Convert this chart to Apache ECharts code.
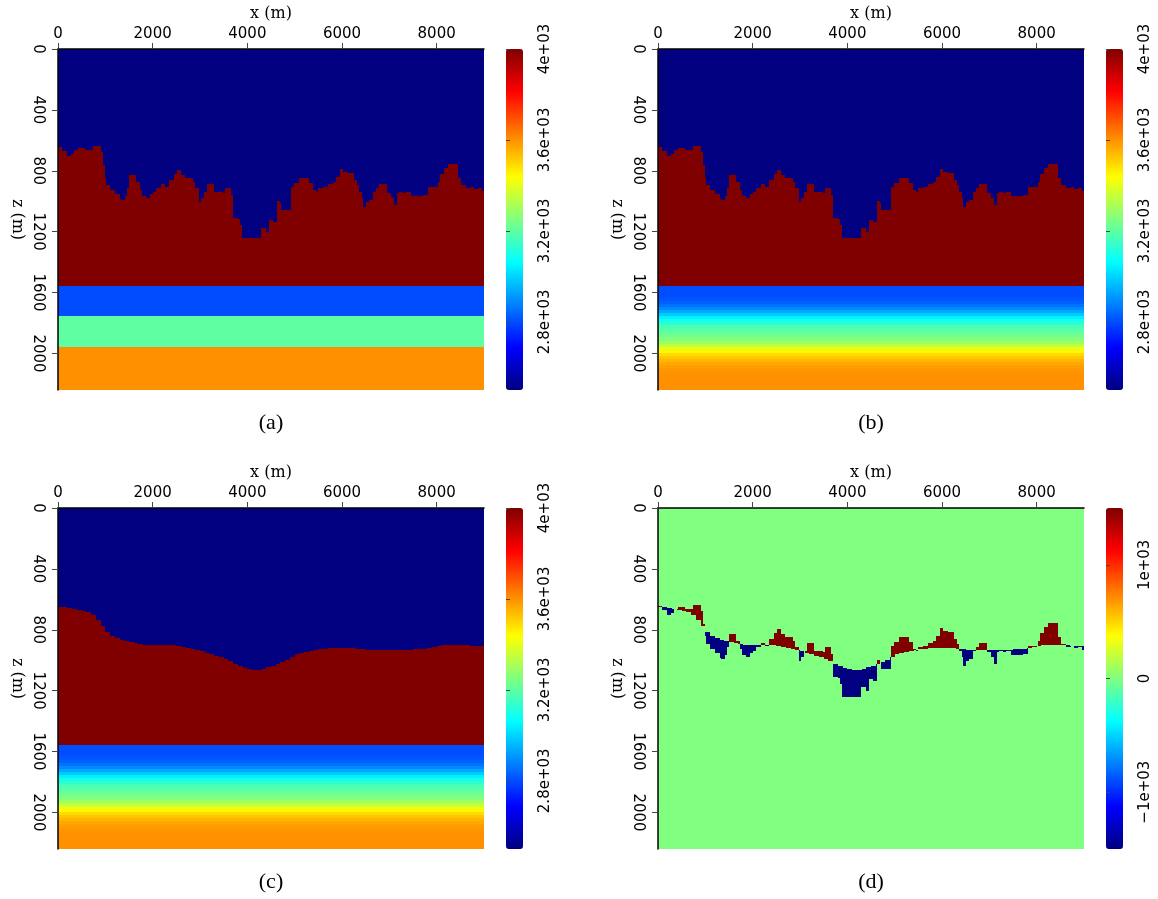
<!DOCTYPE html>
<html>
<head>
<meta charset="utf-8">
<script src="https://cdn.jsdelivr.net/npm/echarts@6/dist/echarts.min.js"></script>
<style>
  html, body { margin: 0; padding: 0; background: #fff; }
  #chart { width: 1158px; height: 899px; }
</style>
</head>
<body>
<div id="chart"></div>
<script>
// model extent (m)
var xMax = 9000;
var zMax = 2240;
var saltBase = 1555;

var waterVel = 2500;
var saltVel = 4000;

// flat sediment layers under the salt, panel (a)
var layerTop = [1555, 1755, 1955];
var layerVel = [2800, 3200, 3600];

// smoothed sediments under the salt, panels (b) and (c)
var gradZ = [1555, 1575, 1595, 1615, 1635, 1655, 1675, 1695, 1715, 1735, 1755, 1775, 1795, 1815, 1835, 1855, 1875,
             1895, 1915, 1935, 1955, 1975, 1995, 2015, 2035, 2055, 2075, 2095, 2115, 2135, 2155, 2175, 2195, 2215];
var gradVel = [2800, 2800, 2800, 2805, 2815, 2830, 2855, 2890, 2935, 2985, 3040, 3090, 3130, 3165, 3190, 3205, 3225,
               3255, 3295, 3345, 3400, 3450, 3490, 3520, 3545, 3565, 3580, 3590, 3597, 3600, 3600, 3600, 3600, 3600];

// rugged top of salt, panels (a) and (b): column starts (m) and depth (m)
var roughX = [0, 90, 180, 280, 340, 430, 560, 740, 915, 950, 985, 1020, 1090, 1195, 1300, 1340, 1405, 1465, 1490,
              1655, 1725, 1775, 1865, 1935, 2005, 2075, 2180, 2250, 2355, 2460, 2510, 2590, 2675, 2780, 2850, 2900,
              2970, 3025, 3095, 3150, 3305, 3480, 3530, 3660, 3695, 3800, 3840, 3885, 4290, 4395, 4465, 4550, 4620,
              4680, 4715, 4925, 4995, 5085, 5240, 5310, 5380, 5450, 5490, 5590, 5700, 5805, 5875, 5960, 6030, 6120,
              6260, 6310, 6365, 6425, 6450, 6505, 6580, 6650, 6720, 6790, 6945, 7035, 7105, 7155, 7210, 7280, 7350,
              7460, 7705, 7810, 8020, 8070, 8160, 8230, 8445, 8515, 8620, 8725, 8795, 8865, 8955];
var roughTop = [641, 669, 700, 689, 663, 649, 663, 636, 674, 761, 838, 893, 926, 954, 985, 992, 963, 915, 827,
                871, 926, 965, 976, 954, 937, 915, 888, 904, 860, 823, 794, 827, 845, 849, 871, 915,
                1003, 981, 937, 888, 937, 948, 915, 959, 1112, 1116, 1156, 1244, 1178, 1200, 1123, 1138, 998,
                1014, 1057, 904, 882, 849, 845, 882, 926, 941, 911, 904, 888, 871, 838, 788, 805, 816,
                860, 893, 941, 981, 1036, 1003, 992, 937, 915, 888, 948, 981, 1025, 948, 941, 948, 941,
                965, 959, 909, 871, 823, 783, 757, 849, 893, 911, 904, 920, 915, 933];

// smoothed top of salt, panel (c): one depth every 100 m from x = 0
var smoothStep = 100;
var smoothTop = [649, 649, 655, 661, 668, 675, 682, 702, 738, 777, 813, 838, 857, 867, 875, 881, 887, 892, 898, 901,
                 901, 901, 901, 901, 901, 905, 911, 917, 925, 933, 942, 951, 960, 970, 982, 994, 1007, 1022, 1039, 1051,
                 1059, 1062, 1062, 1058, 1047, 1036, 1023, 1011, 996, 978, 962, 952, 943, 938, 933, 929, 925, 922, 919, 917,
                 917, 918, 920, 925, 929, 931, 932, 933, 934, 934, 934, 934, 933, 932, 930, 929, 927, 924, 920, 915,
                 909, 903, 897, 897, 897, 898, 901, 904, 907, 908];
var smoothX = smoothTop.map(function(d, i){ return i * smoothStep; });

var velTicks = [2800, 3200, 3600, 4000];
var diffTicks = [-1000, 0, 1000];
var diffMin = -1500, diffMax = 1500;

var jet = ['#000080', '#0000ff', '#0080ff', '#00ffff', '#80ff80', '#ffff00', '#ff8000', '#ff0000', '#800000'];

// ---- build cell lists: [x0, x1, z0, z1, value]
function stepAt(xs, tops, x){
	var k = 0;
	for(var i=0;i<xs.length;i++){ if(xs[i] <= x) k = i; }
	return tops[k];
}
function saltCells(xs, tops){
	var out = [];
	for(var i=0;i<xs.length;i++){
		var x1 = i < xs.length - 1 ? xs[i+1] : xMax;
		out.push([xs[i], x1, tops[i], saltBase, saltVel]);
	}
	return out;
}
function gradCells(){
	var out = [];
	for(var i=0;i<gradZ.length;i++){
		var z1 = i < gradZ.length - 1 ? gradZ[i+1] : zMax;
		out.push([0, xMax, gradZ[i], z1, gradVel[i]]);
	}
	return out;
}
function layerCells(){
	var out = [];
	for(var i=0;i<layerTop.length;i++){
		var z1 = i < layerTop.length - 1 ? layerTop[i+1] : zMax;
		out.push([0, xMax, layerTop[i], z1, layerVel[i]]);
	}
	return out;
}
var water = [[0, xMax, 0, saltBase, waterVel]];
var dataA = water.concat(saltCells(roughX, roughTop), layerCells());
var dataB = water.concat(saltCells(roughX, roughTop), gradCells());
var dataC = water.concat(saltCells(smoothX, smoothTop), gradCells());

// panel (d): (b) minus (c), only differs around the top of salt
var edges = roughX.concat(smoothX).filter(function(v, i, a){ return a.indexOf(v) === i; }).sort(function(a, b){ return a - b; });
var dataD = [[0, xMax, 0, zMax, 0]];
for(var i=0;i<edges.length;i++){
	var x0 = edges[i], x1 = i < edges.length - 1 ? edges[i+1] : xMax;
	var ta = stepAt(roughX, roughTop, x0), tc = stepAt(smoothX, smoothTop, x0);
	if(ta < tc) dataD.push([x0, x1, ta, tc, saltVel - waterVel]);
	else if(ta > tc) dataD.push([x0, x1, tc, ta, waterVel - saltVel]);
}

// ---- layout
var panels = [
	{left: 58,  top: 49,  data: dataA, min: waterVel, max: saltVel, ticks: velTicks, tag: '(a)'},
	{left: 658, top: 49,  data: dataB, min: waterVel, max: saltVel, ticks: velTicks, tag: '(b)'},
	{left: 58,  top: 508, data: dataC, min: waterVel, max: saltVel, ticks: velTicks, tag: '(c)'},
	{left: 658, top: 508, data: dataD, min: diffMin, max: diffMax, ticks: diffTicks, tag: '(d)'}
];
var plotW = 426, plotH = 341, barGap = 22, barW = 17;
var tickFont = 'DejaVu Sans';

function renderCell(params, api){
	var p0 = api.coord([api.value(0), api.value(2)]);
	var p1 = api.coord([api.value(1), api.value(3)]);
	var x0 = Math.round(p0[0]), x1 = Math.round(p1[0]);
	var y0 = Math.round(Math.min(p0[1], p1[1])), y1 = Math.round(Math.max(p0[1], p1[1]));
	return {
		type: 'rect',
		shape: {x: x0, y: y0, width: x1 - x0, height: y1 - y0},
		style: {fill: api.visual('color')}
	};
}
function plain(v){ return String(v); }
function barLabel(v){
	if(v === 0) return '0';
	return (v < 0 ? '\u2212' : '') + (Math.abs(v) / 1000) + 'e+03';
}

var grid = [], xAxis = [], yAxis = [], series = [], visualMap = [], graphic = [];
panels.forEach(function(p, i){
	grid.push({left: p.left, top: p.top, width: plotW, height: plotH});
	xAxis.push({
		type: 'value', gridIndex: i, position: 'top', min: 0, max: xMax, interval: 2000, z: 10,
		name: 'x (m)', nameLocation: 'middle', nameGap: 27,
		nameTextStyle: {fontFamily: 'DejaVu Serif', fontSize: 16, color: '#000'},
		axisLine: {show: true, onZero: false, lineStyle: {color: '#000', width: 1.5}},
		axisTick: {show: true, length: 6, lineStyle: {color: '#444', width: 1}},
		axisLabel: {margin: 7, showMaxLabel: false, formatter: plain, color: '#000', fontFamily: tickFont, fontSize: 15},
		splitLine: {show: false}
	});
	yAxis.push({
		type: 'value', gridIndex: i, inverse: true, min: 0, max: zMax, interval: 400, z: 10,
		name: 'z (m)', nameLocation: 'middle', nameGap: 33, nameRotate: -90,
		nameTextStyle: {fontFamily: 'DejaVu Serif', fontSize: 16, color: '#000'},
		axisLine: {show: true, onZero: false, lineStyle: {color: '#000', width: 1.5}},
		axisTick: {show: true, length: 6, lineStyle: {color: '#444', width: 1}},
		axisLabel: {margin: 13, rotate: -90, showMaxLabel: false, formatter: plain, color: '#000', fontFamily: tickFont, fontSize: 15},
		splitLine: {show: false}
	});
	series.push({
		type: 'custom', xAxisIndex: i, yAxisIndex: i, silent: true, clip: true, z: 1,
		encode: {x: [0, 1], y: [2, 3]},
		renderItem: renderCell,
		data: p.data
	});
	visualMap.push({
		type: 'continuous', seriesIndex: i, dimension: 4, min: p.min, max: p.max,
		inRange: {color: jet}, calculable: false, hoverLink: false, padding: 0,
		itemWidth: barW, itemHeight: plotH,
		left: p.left + plotW + barGap, top: p.top
	});
	graphic.push({
		type: 'text', x: p.left + plotW / 2, y: p.top + 374, silent: true,
		style: {text: p.tag, font: '22px "Liberation Serif"', fill: '#000', textAlign: 'center', textVerticalAlign: 'middle'}
	});
});

// colour bar tick axes, laid over the visualMap bars
panels.forEach(function(p, i){
	var g = grid.length;
	grid.push({left: p.left + plotW + barGap, top: p.top, width: barW, height: plotH});
	xAxis.push({type: 'value', gridIndex: g, show: false, min: 0, max: 1});
	yAxis.push({
		type: 'value', gridIndex: g, position: 'right', min: p.min, max: p.max, z: 10,
		axisLine: {show: false},
		axisTick: {show: true, length: 4, customValues: p.ticks, lineStyle: {color: '#444'}},
		axisLabel: {rotate: 90, margin: 15, customValues: p.ticks, formatter: barLabel,
			color: '#000', fontFamily: tickFont, fontSize: 15},
		splitLine: {show: false}
	});
});

var chart = echarts.init(document.getElementById('chart'));
chart.setOption({
	animation: false,
	backgroundColor: '#fff',
	grid: grid,
	xAxis: xAxis,
	yAxis: yAxis,
	visualMap: visualMap,
	series: series,
	graphic: graphic
});
</script>
</body>
</html>
